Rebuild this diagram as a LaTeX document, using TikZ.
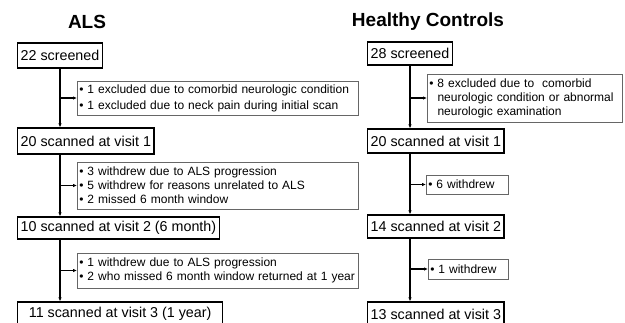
\documentclass[tikz,border=0pt]{standalone}
\usepackage{fontspec}
\setmainfont{Liberation Sans}
\usetikzlibrary{arrows.meta}
\begin{document}
\begin{tikzpicture}[x=1pt,y=-1pt,
  stagebox/.style={draw,line width=1.3pt,inner xsep=3pt,inner ysep=0pt,anchor=west,font=\fontsize{14.3}{16}\selectfont},
  notebox/.style={draw=black!60,line width=0.6pt,inner xsep=2pt,inner ysep=0pt,anchor=west,align=left,font=\fontsize{12}{14}\selectfont},
  titletext/.style={font=\fontsize{19}{22}\selectfont\bfseries},
  downarrow/.style={line width=1.1pt,-{Latex[length=4pt,width=3.5pt]}},
  sidearrow/.style={line width=1.1pt,-{Latex[length=4pt,width=3.5pt]}}]
\useasboundingbox (0,0) rectangle (625,322);

\node[titletext] (alsT) at (87,22) {ALS};
\node[titletext] (hcT) at (428,22) {Healthy Controls};

% ALS column
\node[stagebox,minimum height=25pt] (a0) at (17,55.5) {22 screened};
\node[stagebox,minimum height=26pt] (a1) at (17,141) {20 scanned at visit 1};
\node[stagebox,minimum height=22pt] (a2) at (17,228) {10 scanned at visit 2 (6 month)};
\node[stagebox,minimum height=24pt,minimum width=205pt] (a3) at (17,314) {11 scanned at visit 3 (1 year)};

\node[notebox,text width=277pt,minimum height=34pt] (ax1) at (77,98)
  {• 1 excluded due to comorbid neurologic condition\\[2pt]• 1 excluded due to neck pain during initial scan};
\node[notebox,text width=277pt,minimum height=47pt] (ax2) at (77,185.5)
  {• 3 withdrew due to ALS progression\\• 5 withdrew for reasons unrelated to ALS\\• 2 missed 6 month window};
\node[notebox,text width=277pt,minimum height=35pt] (ax3) at (77,270.5)
  {• 1 withdrew due to ALS progression\\• 2 who missed 6 month window returned at 1 year};

\draw[downarrow] (a0.south) -- (a0.south |- a1.north);
\draw[downarrow] (a0.south |- a1.south) -- (a0.south |- a2.north);
\draw[downarrow] (a0.south |- a2.south) -- (a0.south |- a3.north);
\draw[sidearrow] (a0.south |- ax1.west) -- (ax1.west);
\draw[sidearrow] (a0.south |- ax2.west) -- (ax2.west);
\draw[sidearrow] (a0.south |- ax3.west) -- (ax3.west);

% control column
\node[stagebox,minimum height=23pt] (h0) at (367,53.5) {28 screened};
\node[stagebox,minimum height=24pt] (h1) at (367,141) {20 scanned at visit 1};
\node[stagebox,minimum height=23pt] (h2) at (367,226.5) {14 scanned at visit 2};
\node[stagebox,minimum height=24pt] (h3) at (367,314) {13 scanned at visit 3};

\node[notebox,text width=191pt,minimum height=48pt] (hx1) at (427,98)
  {• 8 excluded due to\ \ comorbid\\\phantom{• }neurologic condition or abnormal\\\phantom{• }neurologic examination};
\node[notebox,text width=78pt,minimum height=19pt] (hx2) at (426,184.5) {• 6 withdrew};
\node[notebox,text width=76pt,minimum height=20pt] (hx3) at (428,269) {• 1 withdrew};

\draw[downarrow] (h0.south) -- (h0.south |- h1.north);
\draw[downarrow] (h0.south |- h1.south) -- (h0.south |- h2.north);
\draw[downarrow] (h0.south |- h2.south) -- (h0.south |- h3.north);
\draw[sidearrow] (h0.south |- hx1.west) -- (hx1.west);
\draw[sidearrow] (h0.south |- hx2.west) -- (hx2.west);
\draw[sidearrow] (h0.south |- hx3.west) -- (hx3.west);
\end{tikzpicture}
\end{document}
